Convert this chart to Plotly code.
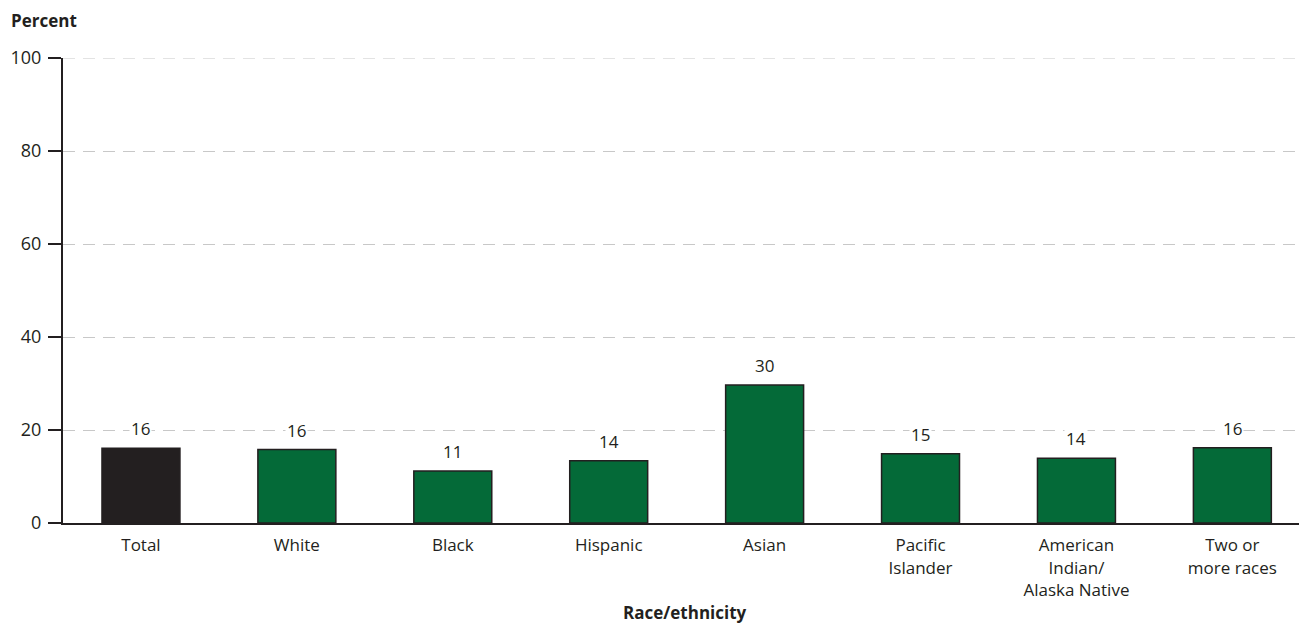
import plotly.graph_objects as go

categories = ["Total", "White", "Black", "Hispanic", "Asian", "Pacific<br>Islander",
              "American<br>Indian/<br>Alaska Native", "Two or<br>more races"]
values = [16.1, 15.8, 11.2, 13.4, 29.7, 14.9, 13.9, 16.2]
labels = ["16", "16", "11", "14", "30", "15", "14", "16"]
colors = ["#231f20"] + ["#046a38"] * 7

FONT = "'Open Sans', sans-serif"
DARK = "#231f20"
GRID = "#c8c8c8"
DASH = "12px,8px"

fig = go.Figure()
fig.add_trace(go.Bar(
    x=list(range(len(categories))), y=values,
    marker=dict(color=colors, line=dict(color=DARK, width=1.5)),
    width=0.5, hoverinfo="skip", showlegend=False,
))

for i, (v, t) in enumerate(zip(values, labels)):
    fig.add_annotation(x=i, y=v, text=t, showarrow=False, yanchor="bottom",
                       yshift=6, bgcolor="white", borderpad=1,
                       font=dict(family=FONT, size=17, color=DARK))

# top gridline (at the 100 tick)
fig.add_shape(type="line", xref="paper", yref="y", x0=0, x1=1, y0=100, y1=100,
              line=dict(color=GRID, width=1, dash=DASH), layer="below")

fig.add_annotation(xref="paper", yref="paper", x=0, y=1.0, xshift=-53, yshift=38,
                   xanchor="left", yanchor="middle", text="<b>Percent</b>",
                   showarrow=False, borderpad=0,
                   font=dict(family=FONT, size=17, color=DARK))
fig.add_annotation(xref="paper", yref="paper", x=0.497, y=0, yshift=-89,
                   xanchor="center", yanchor="middle", text="<b>Race/ethnicity</b>",
                   showarrow=False, font=dict(family=FONT, size=17, color=DARK))

fig.update_layout(
    width=1307, height=623,
    margin=dict(l=55, r=0, t=50, b=108),
    paper_bgcolor="white", plot_bgcolor="white",
    font=dict(family=FONT, size=17, color=DARK),
)
fig.update_xaxes(
    range=[-0.5, 7.53], tickmode="array", tickvals=list(range(len(categories))),
    ticktext=categories, showgrid=False, showline=True, linecolor=DARK,
    linewidth=2, ticks="", tickfont=dict(family=FONT, size=17, color=DARK),
    ticklabelstandoff=6, zeroline=False, automargin=False,
)
fig.update_yaxes(
    range=[0, 100], tickvals=[0, 20, 40, 60, 80, 100], showgrid=True,
    gridcolor=GRID, griddash=DASH, gridwidth=1, showline=True,
    linecolor=DARK, linewidth=2, ticks="outside", ticklen=13, tickwidth=2,
    tickcolor=DARK, tickfont=dict(family=FONT, size=18, color=DARK),
    ticklabelstandoff=3, zeroline=False, automargin=False,
)

fig.write_html("out.html")
